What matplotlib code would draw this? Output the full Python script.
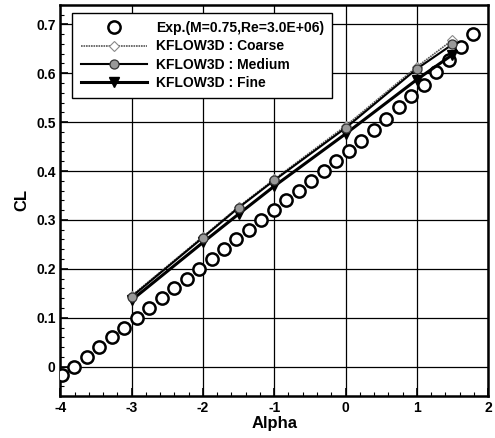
import numpy as np
import matplotlib
matplotlib.use('Agg')
import matplotlib.pyplot as plt

plt.rcParams['font.family'] = ['Liberation Sans', 'DejaVu Sans']
plt.rcParams['font.weight'] = 'bold'

# experiment
exp_alpha = [-3.98, -3.805, -3.63, -3.455, -3.28, -3.105, -2.93, -2.755, -2.58,
             -2.405, -2.23, -2.055, -1.88, -1.705, -1.53, -1.355, -1.18, -1.005,
             -0.83, -0.655, -0.48, -0.305, -0.13, 0.045, 0.22, 0.395, 0.57,
             0.745, 0.92, 1.095, 1.27, 1.445, 1.62, 1.795]
exp_cl = [-0.018, 0.0, 0.02, 0.04, 0.06, 0.08, 0.10, 0.12, 0.14,
          0.16, 0.18, 0.20, 0.22, 0.24, 0.26, 0.28, 0.30, 0.32,
          0.34, 0.36, 0.38, 0.40, 0.42, 0.44, 0.462, 0.484, 0.506,
          0.53, 0.553, 0.577, 0.602, 0.627, 0.653, 0.68]

# KFLOW3D
cfd_alpha = [-3, -2, -1.5, -1, 0, 1, 1.5]
cl_coarse = [0.145, 0.266, 0.327, 0.383, 0.492, 0.613, 0.668]
cl_medium = [0.143, 0.264, 0.325, 0.381, 0.488, 0.609, 0.659]
cl_fine = [0.136, 0.254, 0.312, 0.369, 0.476, 0.587, 0.638]

fig = plt.figure(figsize=(4.95, 4.38), dpi=100)
ax = fig.add_axes([0.122, 0.096, 0.864, 0.893])

ax.plot(exp_alpha, exp_cl, ls='none', marker='o', ms=8.8, mfc='white',
        mec='black', mew=1.8, label='Exp.(M=0.75,Re=3.0E+06)', zorder=3)
ax.plot(cfd_alpha, cl_coarse, color='#555555', lw=1.2, ls=(0, (1, 0.5)),
        marker='D', ms=5.5, mfc='white', mec='#888888', mew=0.8,
        label='KFLOW3D : Coarse', zorder=4)
ax.plot(cfd_alpha, cl_medium, color='black', lw=1.5, marker='o', ms=6.5,
        mfc='#999999', mec='#333333', mew=0.9,
        label='KFLOW3D : Medium', zorder=5)
ax.plot(cfd_alpha, cl_fine, color='black', lw=2.2, marker='v', ms=6.5,
        mfc='black', mec='black', label='KFLOW3D : Fine', zorder=4)

ax.set_xlim(-4, 2)
ax.set_ylim(-0.06, 0.74)
ax.set_xticks(np.arange(-4, 2.01, 1))
ax.set_yticks(np.arange(0, 0.71, 0.1))
ax.set_xticklabels(['-4', '-3', '-2', '-1', '0', '1', '2'])
ax.set_yticklabels(['0', '0.1', '0.2', '0.3', '0.4', '0.5', '0.6', '0.7'])
ax.set_xticks(np.arange(-4, 2.01, 0.2), minor=True)
ax.set_yticks(np.arange(-0.06, 0.741, 0.02), minor=True)
ax.tick_params(which='both', direction='in', labelsize=10)
ax.tick_params(which='major', length=6, width=1.2)
ax.tick_params(which='minor', length=3, width=0.8)
for s in ax.spines.values():
    s.set_linewidth(1.8)
ax.grid(True, which='major', color='black', lw=0.9)

ax.set_xlabel('Alpha', fontsize=12, fontweight='bold', labelpad=1)
ax.set_ylabel('CL', fontsize=12, fontweight='bold', labelpad=5)

leg = ax.legend(loc='upper left', bbox_to_anchor=(0.012, 0.997), fontsize=10,
                frameon=True, fancybox=False, framealpha=1, edgecolor='black',
                handlelength=4.8, borderpad=0.6, labelspacing=0.3,
                handletextpad=0.6)
leg.get_frame().set_linewidth(1.0)

fig.savefig('out.png', dpi=100)
